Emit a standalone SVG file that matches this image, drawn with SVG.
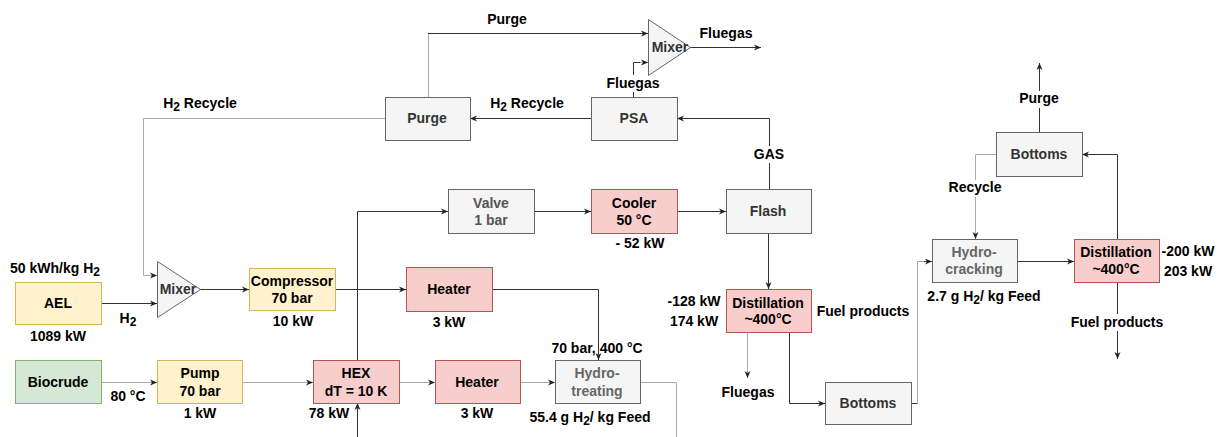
<svg xmlns="http://www.w3.org/2000/svg" width="1222" height="437" viewBox="0 0 1222 437">
<defs>
<style>
text{font-family:"Liberation Sans",Arial,sans-serif;font-size:14px;font-weight:bold;fill:#000;text-anchor:middle}
.gy rect,.gy polygon{fill:#f5f5f5;stroke:#666;stroke-width:1}
.gy text{fill:#333}
.yl rect{fill:#fff2cc;stroke:#d6b656;stroke-width:1}
.rd rect{fill:#f8cecc;stroke:#b85450;stroke-width:1}
.gr rect{fill:#d5e8d4;stroke:#82b366;stroke-width:1}
.dk{fill:none;stroke:#333;stroke-width:1}
.lt{fill:none;stroke:#aaa;stroke-width:1}
.ar{marker-end:url(#a)}
.sub{font-size:12px}
.bg{fill:#fff;stroke:none}
</style>
<marker id="a" markerUnits="userSpaceOnUse" markerWidth="8" markerHeight="8" refX="7" refY="4" orient="auto">
<path d="M0,1 L7,4 L0,7 L2,4 z" fill="#222"/>
</marker>
</defs>
<rect width="1222" height="437" fill="#fff"/>

<g id="connectors">
<path class="dk ar" d="M101 303.5 H157"/>
<path class="dk ar" d="M200 289.5 H249"/>
<path class="dk ar" d="M335 289.5 H406"/>
<path class="dk ar" d="M492 289.5 H598.5 V360"/>
<path class="dk ar" d="M357.5 360 V211.5 H448"/>
<path class="dk ar" d="M357.5 437 V403"/>
<path class="dk ar" d="M534 211.5 H591"/>
<path class="dk ar" d="M677 211.5 H726"/>
<path class="dk ar" d="M768.5 233 V289"/>
<path class="dk ar" d="M769.5 189 V118.5 H677"/>
<path class="dk ar" d="M591 118.5 H470"/>
<path class="lt" d="M428.5 97 V33.5"/>
<path class="dk ar" d="M428 33.5 H648"/>
<path class="dk" d="M633.5 97 V62.5 H640"/>
<path class="lt ar" d="M640 62.5 H648"/>
<path class="dk ar" d="M690 47.5 H761"/>
<path class="lt ar" d="M385 118.5 H143.5 V275.5 H157"/>
<path class="lt ar" d="M101 382.5 H157"/>
<path class="lt ar" d="M242 382.5 H313"/>
<path class="lt ar" d="M399 382.5 H435"/>
<path class="lt ar" d="M520 382.5 H555"/>
<path class="lt" d="M640 382.5 H676.5 V437"/>
<path class="lt ar" d="M747.5 332 V378"/>
<path class="dk ar" d="M789.5 332 V403.5 H825"/>
<path class="dk" d="M911 403.5 H917.5"/>
<path class="lt" d="M917.5 403.5 V261.5 H925"/>
<path class="dk ar" d="M924 261.5 H932"/>
<path class="dk ar" d="M1017 261.5 H1074"/>
<path class="dk ar" d="M1117.5 239 V154.5 H1082"/>
<path class="dk ar" d="M1039.5 132 V63"/>
<path class="lt ar" d="M996 154.5 H975.5 V239"/>
<path class="dk ar" d="M1117.5 282 V359"/>
</g>

<g id="labels">
<text x="55" y="273">50 kWh/kg H<tspan class="sub" dy="3">2</tspan></text>
<text x="58" y="341">1089 kW</text>
<text x="128" y="323">H<tspan class="sub" dy="3">2</tspan></text>
<text x="293" y="326">10 kW</text>
<text x="128" y="401">80 °C</text>
<text x="200" y="418">1 kW</text>
<text x="329" y="418">78 kW</text>
<text x="449" y="327">3 kW</text>
<text x="477" y="418">3 kW</text>
<text x="640" y="248">- 52 kW</text>
<text x="597" y="353">70 bar, 400 °C</text>
<text x="590" y="422">55.4 g H<tspan class="sub" dy="3">2</tspan><tspan dy="-3">/ kg Feed</tspan></text>
<text x="694" y="306">-128 kW</text>
<text x="694" y="326">174 kW</text>
<text x="863" y="316">Fuel products</text>
<text x="748" y="397">Fluegas</text>
<text x="984" y="301">2.7 g H<tspan class="sub" dy="3">2</tspan><tspan dy="-3">/ kg Feed</tspan></text>
<text x="1188" y="256">-200 kW</text>
<text x="1188" y="276">203 kW</text>
<rect class="bg" x="1069" y="314" width="96" height="17"/>
<text x="1117" y="327">Fuel products</text>
<rect class="bg" x="947" y="180" width="56" height="17"/>
<text x="975" y="192">Recycle</text>
<rect class="bg" x="1018" y="91" width="43" height="17"/>
<text x="1039" y="103">Purge</text>
<text x="507" y="24">Purge</text>
<text x="726" y="38">Fluegas</text>
<rect class="bg" x="606" y="75" width="56" height="17"/>
<text x="633" y="88">Fluegas</text>
<text x="527" y="108">H<tspan class="sub" dy="3">2</tspan><tspan dy="-3"> Recycle</tspan></text>
<text x="200" y="108">H<tspan class="sub" dy="3">2</tspan><tspan dy="-3"> Recycle</tspan></text>
<rect class="bg" x="752" y="146" width="35" height="17"/>
<text x="769" y="159">GAS</text>
</g>

<g id="AEL" class="yl"><rect x="15.5" y="282.5" width="86" height="42"/><text x="58" y="308">AEL</text></g>
<g id="Biocrude" class="gr"><rect x="15.5" y="360.5" width="86" height="43"/><text x="58" y="387">Biocrude</text></g>
<g id="Mixer1" class="gy"><polygon points="157.5,261.5 200.5,289.5 157.5,317.5"/><text x="178" y="294">Mixer</text></g>
<g id="Compressor" class="yl"><rect x="249.5" y="268.5" width="86" height="42"/><text x="292" y="286">Compressor</text><text x="292" y="303">70 bar</text></g>
<g id="Heater1" class="rd"><rect x="406.5" y="267.5" width="86" height="44"/><text x="449" y="294">Heater</text></g>
<g id="Pump" class="yl"><rect x="157.5" y="360.5" width="85" height="43"/><text x="200" y="378">Pump</text><text x="200" y="396">70 bar</text></g>
<g id="HEX" class="rd"><rect x="313.5" y="360.5" width="86" height="43"/><text x="356" y="378">HEX</text><text x="356" y="396">dT = 10 K</text></g>
<g id="Heater2" class="rd"><rect x="435.5" y="360.5" width="85" height="43"/><text x="477" y="387">Heater</text></g>
<g id="Hydrotreating" class="gy"><rect x="555.5" y="360.5" width="85" height="43"/><text x="597" y="378" style="fill:#666">Hydro-</text><text x="597" y="396" style="fill:#666">treating</text></g>
<g id="Valve" class="gy"><rect x="448.5" y="189.5" width="86" height="44"/><text x="491" y="208" style="fill:#555">Valve</text><text x="491" y="225" style="fill:#555">1 bar</text></g>
<g id="Cooler" class="rd"><rect x="591.5" y="189.5" width="86" height="44"/><text x="634" y="208">Cooler</text><text x="634" y="225">50 °C</text></g>
<g id="Flash" class="gy"><rect x="726.5" y="189.5" width="85" height="44"/><text x="768" y="216">Flash</text></g>
<g id="Distillation1" class="rd"><rect x="726.5" y="289.5" width="85" height="43"/><text x="768" y="308">Distillation</text><text x="768" y="324">~400°C</text></g>
<g id="Bottoms1" class="gy"><rect x="825.5" y="382.5" width="86" height="42"/><text x="868" y="408">Bottoms</text></g>
<g id="Hydrocracking" class="gy"><rect x="932.5" y="239.5" width="85" height="43"/><text x="974" y="257" style="fill:#666">Hydro-</text><text x="974" y="274" style="fill:#666">cracking</text></g>
<g id="Distillation2" class="rd"><rect x="1074.5" y="239.5" width="85" height="43"/><text x="1116" y="257">Distillation</text><text x="1116" y="274">~400°C</text></g>
<g id="Bottoms2" class="gy"><rect x="996.5" y="132.5" width="86" height="44"/><text x="1039" y="159">Bottoms</text></g>
<g id="Purge" class="gy"><rect x="385.5" y="97.5" width="85" height="43"/><text x="427" y="123">Purge</text></g>
<g id="PSA" class="gy"><rect x="591.5" y="97.5" width="86" height="43"/><text x="634" y="123">PSA</text></g>
<g id="Mixer2" class="gy"><polygon points="648.5,19.5 690.5,47.5 648.5,75.5"/><text x="670" y="52">Mixer</text></g>
</svg>
